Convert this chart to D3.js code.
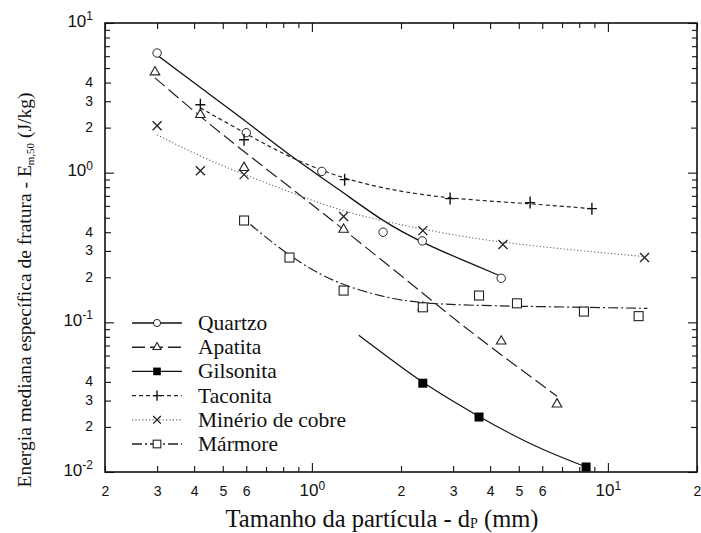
<!DOCTYPE html>
<html>
<head>
<meta charset="utf-8">
<script src="https://cdn.jsdelivr.net/npm/d3@7"></script>
<style>
    body { margin: 0; background: #fff; }
    svg { display: block; }
</style>
</head>
<body>
<div id="chart"></div>
<script>
(function () {
    'use strict';

    const SANS = '"Liberation Sans", Arial, Helvetica, sans-serif';
    const SERIF = '"Liberation Serif", "Times New Roman", serif';

    // Data: [particle size mm, energy J/kg]
    const seriesNames = ['Quartzo', 'Apatita', 'Gilsonita', 'Taconita', 'Minério de cobre', 'Mármore'];

    const quartzoPts = [[0.3, 6.3], [0.6, 1.85], [1.08, 1.02], [1.74, 0.40], [2.36, 0.35], [4.36, 0.197]];
    const quartzoFit = [[0.3, 6.1], [0.42, 3.7], [0.59, 2.26], [0.84, 1.30], [1.24, 0.77], [1.74, 0.47], [2.36, 0.34], [3.56, 0.24], [4.36, 0.203]];

    const apatitaPts = [[0.295, 4.7], [0.42, 2.44], [0.59, 1.08], [1.28, 0.417], [2.37, 0.126], [4.36, 0.0747], [6.73, 0.0284]];
    const apatitaFit = [[0.295, 4.3], [0.42, 2.36], [0.59, 1.38], [0.89, 0.736], [1.28, 0.417], [1.98, 0.209], [2.93, 0.111], [3.78, 0.0747], [6.73, 0.0321]];

    const gilsonitaPts = [[2.37, 0.0392], [3.67, 0.0233], [8.44, 0.0108]];
    const gilsonitaFit = [[1.44, 0.082], [1.84, 0.057], [2.37, 0.0392], [3.67, 0.0233], [5.58, 0.0149], [8.44, 0.0108]];

    const taconitaPts = [[0.42, 2.84], [0.59, 1.66], [1.29, 0.898], [2.93, 0.671], [5.46, 0.631], [8.83, 0.575]];
    const taconitaFit = [[0.42, 2.71], [0.59, 1.85], [0.84, 1.26], [1.29, 0.898], [1.98, 0.747], [2.93, 0.671], [5.46, 0.621], [8.83, 0.575]];

    const cobrePts = [[0.3, 2.06], [0.42, 1.03], [0.59, 0.97], [1.28, 0.509], [2.37, 0.41], [4.42, 0.331], [13.3, 0.271]];
    const cobreFit = [[0.3, 1.79], [0.42, 1.28], [0.59, 0.97], [0.84, 0.747], [1.28, 0.541], [2.36, 0.417], [4.42, 0.336], [13.3, 0.275]];

    const marmorePts = [[0.59, 0.479], [0.84, 0.271], [1.28, 0.163], [2.37, 0.126], [3.67, 0.151], [4.93, 0.134], [8.3, 0.118], [12.7, 0.11]];
    const marmoreFit = [[0.62, 0.45], [0.84, 0.275], [1.18, 0.185], [1.7, 0.149], [2.37, 0.132], [4.93, 0.128], [13.6, 0.124]];

    // Tick values
    const xLabelTicks = [0.2, 0.3, 0.4, 0.5, 0.6, 1, 2, 3, 4, 5, 6, 10, 20];
    const xMinorTicks = [0.7, 0.8, 0.9, 7, 8, 9];
    const yLabelTicks = [0.01, 0.02, 0.03, 0.04, 0.1, 0.2, 0.3, 0.4, 1, 2, 3, 4, 10];
    const yMinorTicks = [0.05, 0.06, 0.07, 0.08, 0.09, 0.5, 0.6, 0.7, 0.8, 0.9, 5, 6, 7, 8, 9];

    const W = 701, H = 533;
    const plot = { left: 105, right: 697, top: 23, bottom: 472 };

    const svg = d3.select('#chart').append('svg')
        .attr('width', W).attr('height', H);
    svg.append('rect').attr('width', W).attr('height', H).attr('fill', '#fff');

    const x = d3.scaleLog().domain([0.2, 20]).range([plot.left, plot.right]);
    const y = d3.scaleLog().domain([0.01, 10]).range([plot.bottom, plot.top]);

    const isDecade = v => Math.abs(Math.log10(v) - Math.round(Math.log10(v))) < 1e-9;

    // Write tick text: mantissa digit, or 10 with superscript exponent
    function fillTickText(sel, big, small) {
        sel.each(function (v) {
            const t = d3.select(this).text(null)
                .style('font-family', SANS).attr('fill', '#111');
            if (isDecade(v)) {
                t.append('tspan').attr('font-size', big).text('10');
                t.append('tspan').attr('font-size', small).attr('dy', '-0.55em')
                    .text(String(Math.round(Math.log10(v))));
            } else {
                const e = Math.floor(Math.log10(v) + 1e-9);
                t.append('tspan').attr('font-size', small + 2).text(Math.round(v / Math.pow(10, e)));
            }
        });
    }

    // ---- Axes (ticks pointing inward) ----
    const tickLen = v => isDecade(v) ? 9 : 6;

    function drawAxis(g, axisFn, scale, values, inward, labels) {
        const ax = axisFn(scale).tickValues(values).tickSizeOuter(0)
            .tickSizeInner(-6).tickPadding(labels ? 11 : 0);
        g.call(ax);
        g.select('.domain').remove();
        g.selectAll('.tick line').attr('stroke', '#111').attr('stroke-width', 1.1)
            .each(function (v) {
                const len = labels ? tickLen(v) : 5;
                const ln = d3.select(this);
                if (inward === 'x+') ln.attr('x2', len);
                if (inward === 'x-') ln.attr('x2', -len);
                if (inward === 'y-') ln.attr('y2', -len);
                if (inward === 'y+') ln.attr('y2', len);
            });
        if (!labels) g.selectAll('.tick text').remove();
        return g;
    }

    // Bottom
    const gxb = svg.append('g').attr('transform', `translate(0,${plot.bottom})`);
    drawAxis(gxb, d3.axisBottom, x, xLabelTicks, 'y-', true);
    gxb.selectAll('.tick text').attr('y', 17).call(fillTickText, 17, 12);
    drawAxis(svg.append('g').attr('transform', `translate(0,${plot.bottom})`), d3.axisBottom, x, xMinorTicks, 'y-', false);
    // Top
    drawAxis(svg.append('g').attr('transform', `translate(0,${plot.top})`), d3.axisTop, x, xLabelTicks, 'y+', false)
        .selectAll('.tick line').attr('y2', v => tickLen(v));
    drawAxis(svg.append('g').attr('transform', `translate(0,${plot.top})`), d3.axisTop, x, xMinorTicks, 'y+', false);

    // Left
    const gyl = svg.append('g').attr('transform', `translate(${plot.left},0)`);
    drawAxis(gyl, d3.axisLeft, y, yLabelTicks, 'x+', true);
    gyl.selectAll('.tick text').attr('x', -12)
        .attr('dy', v => isDecade(v) ? '0.3em' : '0.38em').call(fillTickText, 17, 12);
    drawAxis(svg.append('g').attr('transform', `translate(${plot.left},0)`), d3.axisLeft, y, yMinorTicks, 'x+', false);
    // Right
    drawAxis(svg.append('g').attr('transform', `translate(${plot.right},0)`), d3.axisRight, y, yLabelTicks, 'x-', false)
        .selectAll('.tick line').attr('x2', v => -tickLen(v));
    drawAxis(svg.append('g').attr('transform', `translate(${plot.right},0)`), d3.axisRight, y, yMinorTicks, 'x-', false);

    // Frame
    svg.append('rect')
        .attr('x', plot.left).attr('y', plot.top)
        .attr('width', plot.right - plot.left).attr('height', plot.bottom - plot.top)
        .attr('fill', 'none').attr('stroke', '#111').attr('stroke-width', 1.6);

    // ---- Series ----
    const series = [
        { name: seriesNames[0], pts: quartzoPts, fit: quartzoFit, marker: 'circle', dash: null, color: '#111', width: 1.3 },
        { name: seriesNames[1], pts: apatitaPts, fit: apatitaFit, marker: 'triangle', dash: '13,5', color: '#222', width: 1.2 },
        { name: seriesNames[2], pts: gilsonitaPts, fit: gilsonitaFit, marker: 'squareFilled', dash: null, color: '#111', width: 1.2 },
        { name: seriesNames[3], pts: taconitaPts, fit: taconitaFit, marker: 'plus', dash: '4,3', color: '#222', width: 1.2 },
        { name: seriesNames[4], pts: cobrePts, fit: cobreFit, marker: 'cross', dash: '1.2,2.2', color: '#666', width: 1.1 },
        { name: seriesNames[5], pts: marmorePts, fit: marmoreFit, marker: 'square', dash: '10,3,2,3', color: '#222', width: 1.2 }
    ];

    const line = d3.line()
        .x(d => x(d[0]))
        .y(d => y(d[1]))
        .curve(d3.curveBasis);

    svg.append('g').selectAll('path')
        .data(series)
        .enter()
        .append('path')
        .attr('d', d => line(d.fit))
        .attr('fill', 'none')
        .attr('stroke', d => d.color)
        .attr('stroke-width', d => d.width)
        .attr('stroke-dasharray', d => d.dash);

    function drawMarker(g, type, cx, cy, scale) {
        const s = scale || 1;
        const stroke = '#222';
        switch (type) {
            case 'circle':
                g.append('circle').attr('cx', cx).attr('cy', cy).attr('r', 4.2 * s)
                    .attr('fill', '#fff').attr('stroke', stroke).attr('stroke-width', 1);
                break;
            case 'triangle':
                g.append('path')
                    .attr('d', d3.symbol().type(d3.symbolTriangle).size(40 * s * s)())
                    .attr('transform', `translate(${cx},${cy})`)
                    .attr('fill', '#fff').attr('stroke', stroke).attr('stroke-width', 1.1);
                break;
            case 'squareFilled':
                g.append('rect').attr('x', cx - 4.5 * s).attr('y', cy - 4.5 * s)
                    .attr('width', 9 * s).attr('height', 9 * s).attr('fill', '#000');
                break;
            case 'square':
                g.append('rect').attr('x', cx - 4.5 * s).attr('y', cy - 4.5 * s)
                    .attr('width', 9 * s).attr('height', 9 * s)
                    .attr('fill', '#fff').attr('stroke', stroke).attr('stroke-width', 1.1);
                break;
            case 'plus':
                g.append('path')
                    .attr('d', `M${cx - 5 * s},${cy}H${cx + 5 * s}M${cx},${cy - 6 * s}V${cy + 6 * s}`)
                    .attr('stroke', '#111').attr('stroke-width', 1.4).attr('fill', 'none');
                break;
            case 'cross':
                g.append('path')
                    .attr('d', `M${cx - 4.5 * s},${cy - 4.5 * s}L${cx + 4.5 * s},${cy + 4.5 * s}M${cx - 4.5 * s},${cy + 4.5 * s}L${cx + 4.5 * s},${cy - 4.5 * s}`)
                    .attr('stroke', '#222').attr('stroke-width', 1.3).attr('fill', 'none');
                break;
        }
    }

    const markerLayer = svg.append('g');
    series.forEach(s => {
        s.pts.forEach(p => drawMarker(markerLayer, s.marker, x(p[0]), y(p[1]), 1));
    });

    // ---- Legend ----
    const legend = svg.append('g');
    series.forEach((s, i) => {
        const ly = 323 + i * 24.2;
        legend.append('line')
            .attr('x1', 132).attr('x2', 182).attr('y1', ly).attr('y2', ly)
            .attr('stroke', s.color).attr('stroke-width', s.width + 0.2)
            .attr('stroke-dasharray', s.dash);
        drawMarker(legend, s.marker, 157, ly, 0.85);
        legend.append('text')
            .style('font-family', SERIF).attr('fill', '#111')
            .attr('x', 198).attr('y', ly + 7)
            .attr('font-size', 21.5)
            .text(s.name);
    });

    // ---- Axis titles ----
    const xt = svg.append('text').style('font-family', SERIF).attr('fill', '#111')
        .attr('x', 382).attr('y', 527).attr('text-anchor', 'middle').attr('font-size', 24.5);
    xt.append('tspan').text('Tamanho da partícula - d');
    xt.append('tspan').attr('font-size', 14).attr('dy', 1).text('P');
    xt.append('tspan').attr('dy', -1).text(' (mm)');

    const yt = svg.append('text').style('font-family', SERIF).attr('fill', '#111')
        .attr('transform', 'translate(31,290) rotate(-90)')
        .attr('text-anchor', 'middle').attr('font-size', 19.5);
    yt.append('tspan').text('Energia mediana específica de fratura - E');
    yt.append('tspan').attr('font-size', 11).attr('dy', 3).text('m,50');
    yt.append('tspan').attr('dy', -3).text(' (J/kg)');
})();
</script>
</body>
</html>
